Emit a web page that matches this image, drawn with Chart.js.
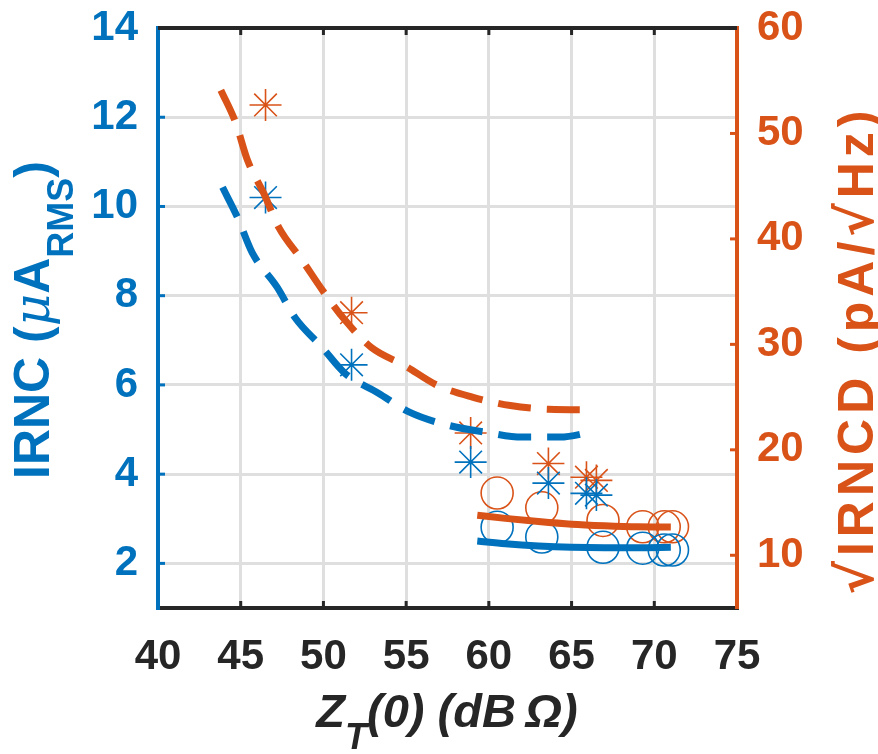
<!DOCTYPE html>
<html>
<head>
<meta charset="utf-8">
<script src="https://cdn.jsdelivr.net/npm/chart.js@4/dist/chart.umd.min.js"></script>
<style>
  html, body { margin: 0; padding: 0; background: #fff; }
  canvas { display: block; }
</style>
</head>
<body>
<canvas id="irnc-chart" width="878" height="754"></canvas>
<script>
const BLUE = "#0072BD";
const ORANGE = "#D95319";
const BLACK = "#262626";
const FONT = "'Liberation Sans', Arial, Helvetica, sans-serif";

// axis limits and tick labels
const xMin = 40, xMax = 75;
const leftMin = 1, leftMax = 14;
const rightMin = 5, rightMax = 60;
const xTicks = [40, 45, 50, 55, 60, 65, 70, 75];
const leftTicks = [2, 4, 6, 8, 10, 12, 14];
const rightTicks = [10, 20, 30, 40, 50, 60];

// measured points (asterisks)
const starX = [46.5, 51.7, 58.9, 63.6, 65.9, 66.5];
const starIrnc = [10.2, 6.45, 4.27, 3.8, 3.57, 3.53];
const starIrncd = [52.7, 33.0, 21.6, 18.7, 17.4, 17.1];

// measured points (circles)
const circX = [60.5, 63.2, 66.9, 69.3, 70.6, 71.1];
const circIrnc = [2.81, 2.59, 2.36, 2.34, 2.3, 2.3];
const circIrncd = [15.9, 14.5, 13.3, 12.7, 12.7, 12.7];

// dashed trend, IRNC
const dashIrncX = [43.9, 44.8, 45.7, 47.2, 48.3, 49.9, 51.3, 53.3, 55.2, 57.5, 59.8, 62.0, 64.3, 66.4];
const dashIrncY = [10.43, 9.76, 8.96, 8.19, 7.5, 6.85, 6.26, 5.82, 5.39, 5.1, 4.94, 4.83, 4.83, 4.96];

// dashed trend, IRNCD
const dashIrncdX = [43.8, 44.7, 45.4, 46.4, 47.3, 48.7, 50.0, 51.3, 52.9, 54.9, 56.9, 59.0, 61.3, 63.6, 66.4];
const dashIrncdY = [54.1, 51.0, 47.5, 44.3, 41.1, 38.0, 35.0, 32.3, 29.7, 28.0, 26.1, 25.0, 24.2, 23.85, 23.8];

// solid trends
const solidX = [59.3, 61, 63, 65, 67, 69, 71];
const solidIrnc = [2.5, 2.44, 2.39, 2.36, 2.35, 2.35, 2.36];
const solidIrncd = [13.8, 13.5, 13.2, 12.95, 12.8, 12.7, 12.68];

const pts = (xs, ys) => xs.map((x, i) => ({ x: x, y: ys[i] }));

const lineSet = (xs, ys, color, axis, dash) => ({
    data: pts(xs, ys),
    yAxisID: axis,
    showLine: true,
    borderColor: color,
    borderWidth: 7,
    borderDash: dash,
    pointRadius: 0,
    cubicInterpolationMode: "monotone",
});

const markerSet = (xs, ys, color, axis, style) => ({
    data: pts(xs, ys),
    yAxisID: axis,
    showLine: false,
    pointStyle: style,
    pointRadius: 16,
    pointBorderWidth: 1.6,
    pointBorderColor: color,
    pointBackgroundColor: "rgba(0,0,0,0)",
});

// fixed tick values instead of generated ones
const fixTicks = (values) => (scale) => {
    scale.ticks = values.map((v) => ({ value: v }));
};

// fixed axis size, no extra room for overhanging labels
const fixSize = (w, h) => (s) => {
    if (w) s.width = w;
    if (h) s.height = h;
    s.paddingTop = 0;
    s.paddingBottom = 0;
    s.paddingLeft = 0;
    s.paddingRight = 0;
};

// inside tick marks, top frame line and the axis titles
const frame = {
    id: "frame",
    afterDraw(chart) {
        const { ctx, chartArea: a, scales } = chart;
        const len = 7;
        ctx.save();
        ctx.lineWidth = 4;
        ctx.strokeStyle = BLACK;
        ctx.beginPath();
        ctx.moveTo(a.left, a.top);
        ctx.lineTo(a.right, a.top);
        ctx.stroke();

        ctx.lineWidth = 3;
        xTicks.slice(1, -1).forEach((v) => {
            const px = scales.x.getPixelForValue(v);
            ctx.beginPath();
            ctx.moveTo(px, a.bottom);
            ctx.lineTo(px, a.bottom - len);
            ctx.moveTo(px, a.top);
            ctx.lineTo(px, a.top + len);
            ctx.stroke();
        });
        ctx.strokeStyle = BLUE;
        leftTicks.slice(0, -1).forEach((v) => {
            const py = scales.y.getPixelForValue(v);
            ctx.beginPath();
            ctx.moveTo(a.left, py);
            ctx.lineTo(a.left + len, py);
            ctx.stroke();
        });
        ctx.strokeStyle = ORANGE;
        rightTicks.slice(0, -1).forEach((v) => {
            const py = scales.y2.getPixelForValue(v);
            ctx.beginPath();
            ctx.moveTo(a.right, py);
            ctx.lineTo(a.right - len, py);
            ctx.stroke();
        });

        // draw a run of [text, font, baselineShift] pieces centred on 0
        const run = (parts) => {
            let w = 0;
            parts.forEach((p) => {
                ctx.font = p[1];
                w += ctx.measureText(p[0]).width;
            });
            let x = -w / 2;
            parts.forEach((p) => {
                ctx.font = p[1];
                ctx.fillText(p[0], x, p[2]);
                x += ctx.measureText(p[0]).width;
            });
        };

        ctx.textBaseline = "alphabetic";
        ctx.textAlign = "left";

        // left title
        ctx.save();
        ctx.fillStyle = BLUE;
        ctx.translate(49, 320);
        ctx.rotate(-Math.PI / 2);
        run([
            ["IRNC (", "bold 50px " + FONT, 0],
            ["\u03BC", "italic 50px 'DejaVu Serif', serif", 0],
            ["A", "bold 50px " + FONT, 0],
            ["RMS", "bold 36px " + FONT, 24],
            [")", "bold 50px " + FONT, 0],
        ]);
        ctx.restore();

        // right title
        ctx.save();
        ctx.fillStyle = ORANGE;
        ctx.translate(873, 350);
        ctx.rotate(-Math.PI / 2);
        ctx.letterSpacing = "5px";
        const sq = "bold 50px 'DejaVu Sans', sans-serif";
        const tx = "bold 50px " + FONT;
        run([
            ["\u221A", sq, 0],
            ["IRNCD (pA/", tx, 0],
            ["\u221A", sq, 0],
            ["Hz)", tx, 0],
        ]);
        ctx.restore();

        // bottom title
        ctx.save();
        ctx.fillStyle = BLACK;
        ctx.translate(447, 727);
        run([
            ["Z", "italic bold 47px " + FONT, 0],
            ["T", "italic bold 36px " + FONT, 22],
            ["(0) (dB", "italic bold 47px " + FONT, 0],
            ["\u2009\u03A9", "italic bold 47px " + FONT, 0],
            [")", "italic bold 47px " + FONT, 0],
        ]);
        ctx.restore();
        ctx.restore();
    },
};

const tickFont = { family: FONT, size: 42, weight: "bold" };

new Chart(document.getElementById("irnc-chart").getContext("2d"), {
    type: "scatter",
    data: {
        datasets: [
            lineSet(solidX, solidIrnc, BLUE, "y", []),
            lineSet(solidX, solidIrncd, ORANGE, "y2", []),
            lineSet(dashIrncX, dashIrncY, BLUE, "y", [33, 16]),
            lineSet(dashIrncdX, dashIrncdY, ORANGE, "y2", [33, 16]),
            markerSet(starX, starIrnc, BLUE, "y", "star"),
            markerSet(starX, starIrncd, ORANGE, "y2", "star"),
            markerSet(circX, circIrnc, BLUE, "y", "circle"),
            markerSet(circX, circIrncd, ORANGE, "y2", "circle"),
        ],
    },
    options: {
        responsive: false,
        animation: false,
        layout: { padding: { top: 28, left: 0, right: 0, bottom: 0 } },
        plugins: {
            legend: { display: false },
            tooltip: { enabled: false },
        },
        scales: {
            x: {
                type: "linear",
                min: xMin,
                max: xMax,
                afterBuildTicks: fixTicks(xTicks),
                afterFit: fixSize(0, 146),
                ticks: { color: BLACK, font: tickFont, padding: 24, maxRotation: 0 },
                grid: { color: "#dfdfdf", lineWidth: 3, drawTicks: false },
                border: { color: BLACK, width: 4 },
            },
            y: {
                type: "linear",
                position: "left",
                min: leftMin,
                max: leftMax,
                afterBuildTicks: fixTicks(leftTicks),
                afterFit: fixSize(158, 0),
                ticks: { color: BLUE, font: tickFont, padding: 20 },
                grid: { color: "#dfdfdf", lineWidth: 3, drawTicks: false },
                border: { color: BLUE, width: 4 },
            },
            y2: {
                type: "linear",
                position: "right",
                min: rightMin,
                max: rightMax,
                afterBuildTicks: fixTicks(rightTicks),
                afterFit: fixSize(141, 0),
                ticks: { color: ORANGE, font: tickFont, padding: 20 },
                grid: { display: false, drawTicks: false },
                border: { color: ORANGE, width: 4 },
            },
        },
    },
    plugins: [frame],
});
</script>
</body>
</html>
